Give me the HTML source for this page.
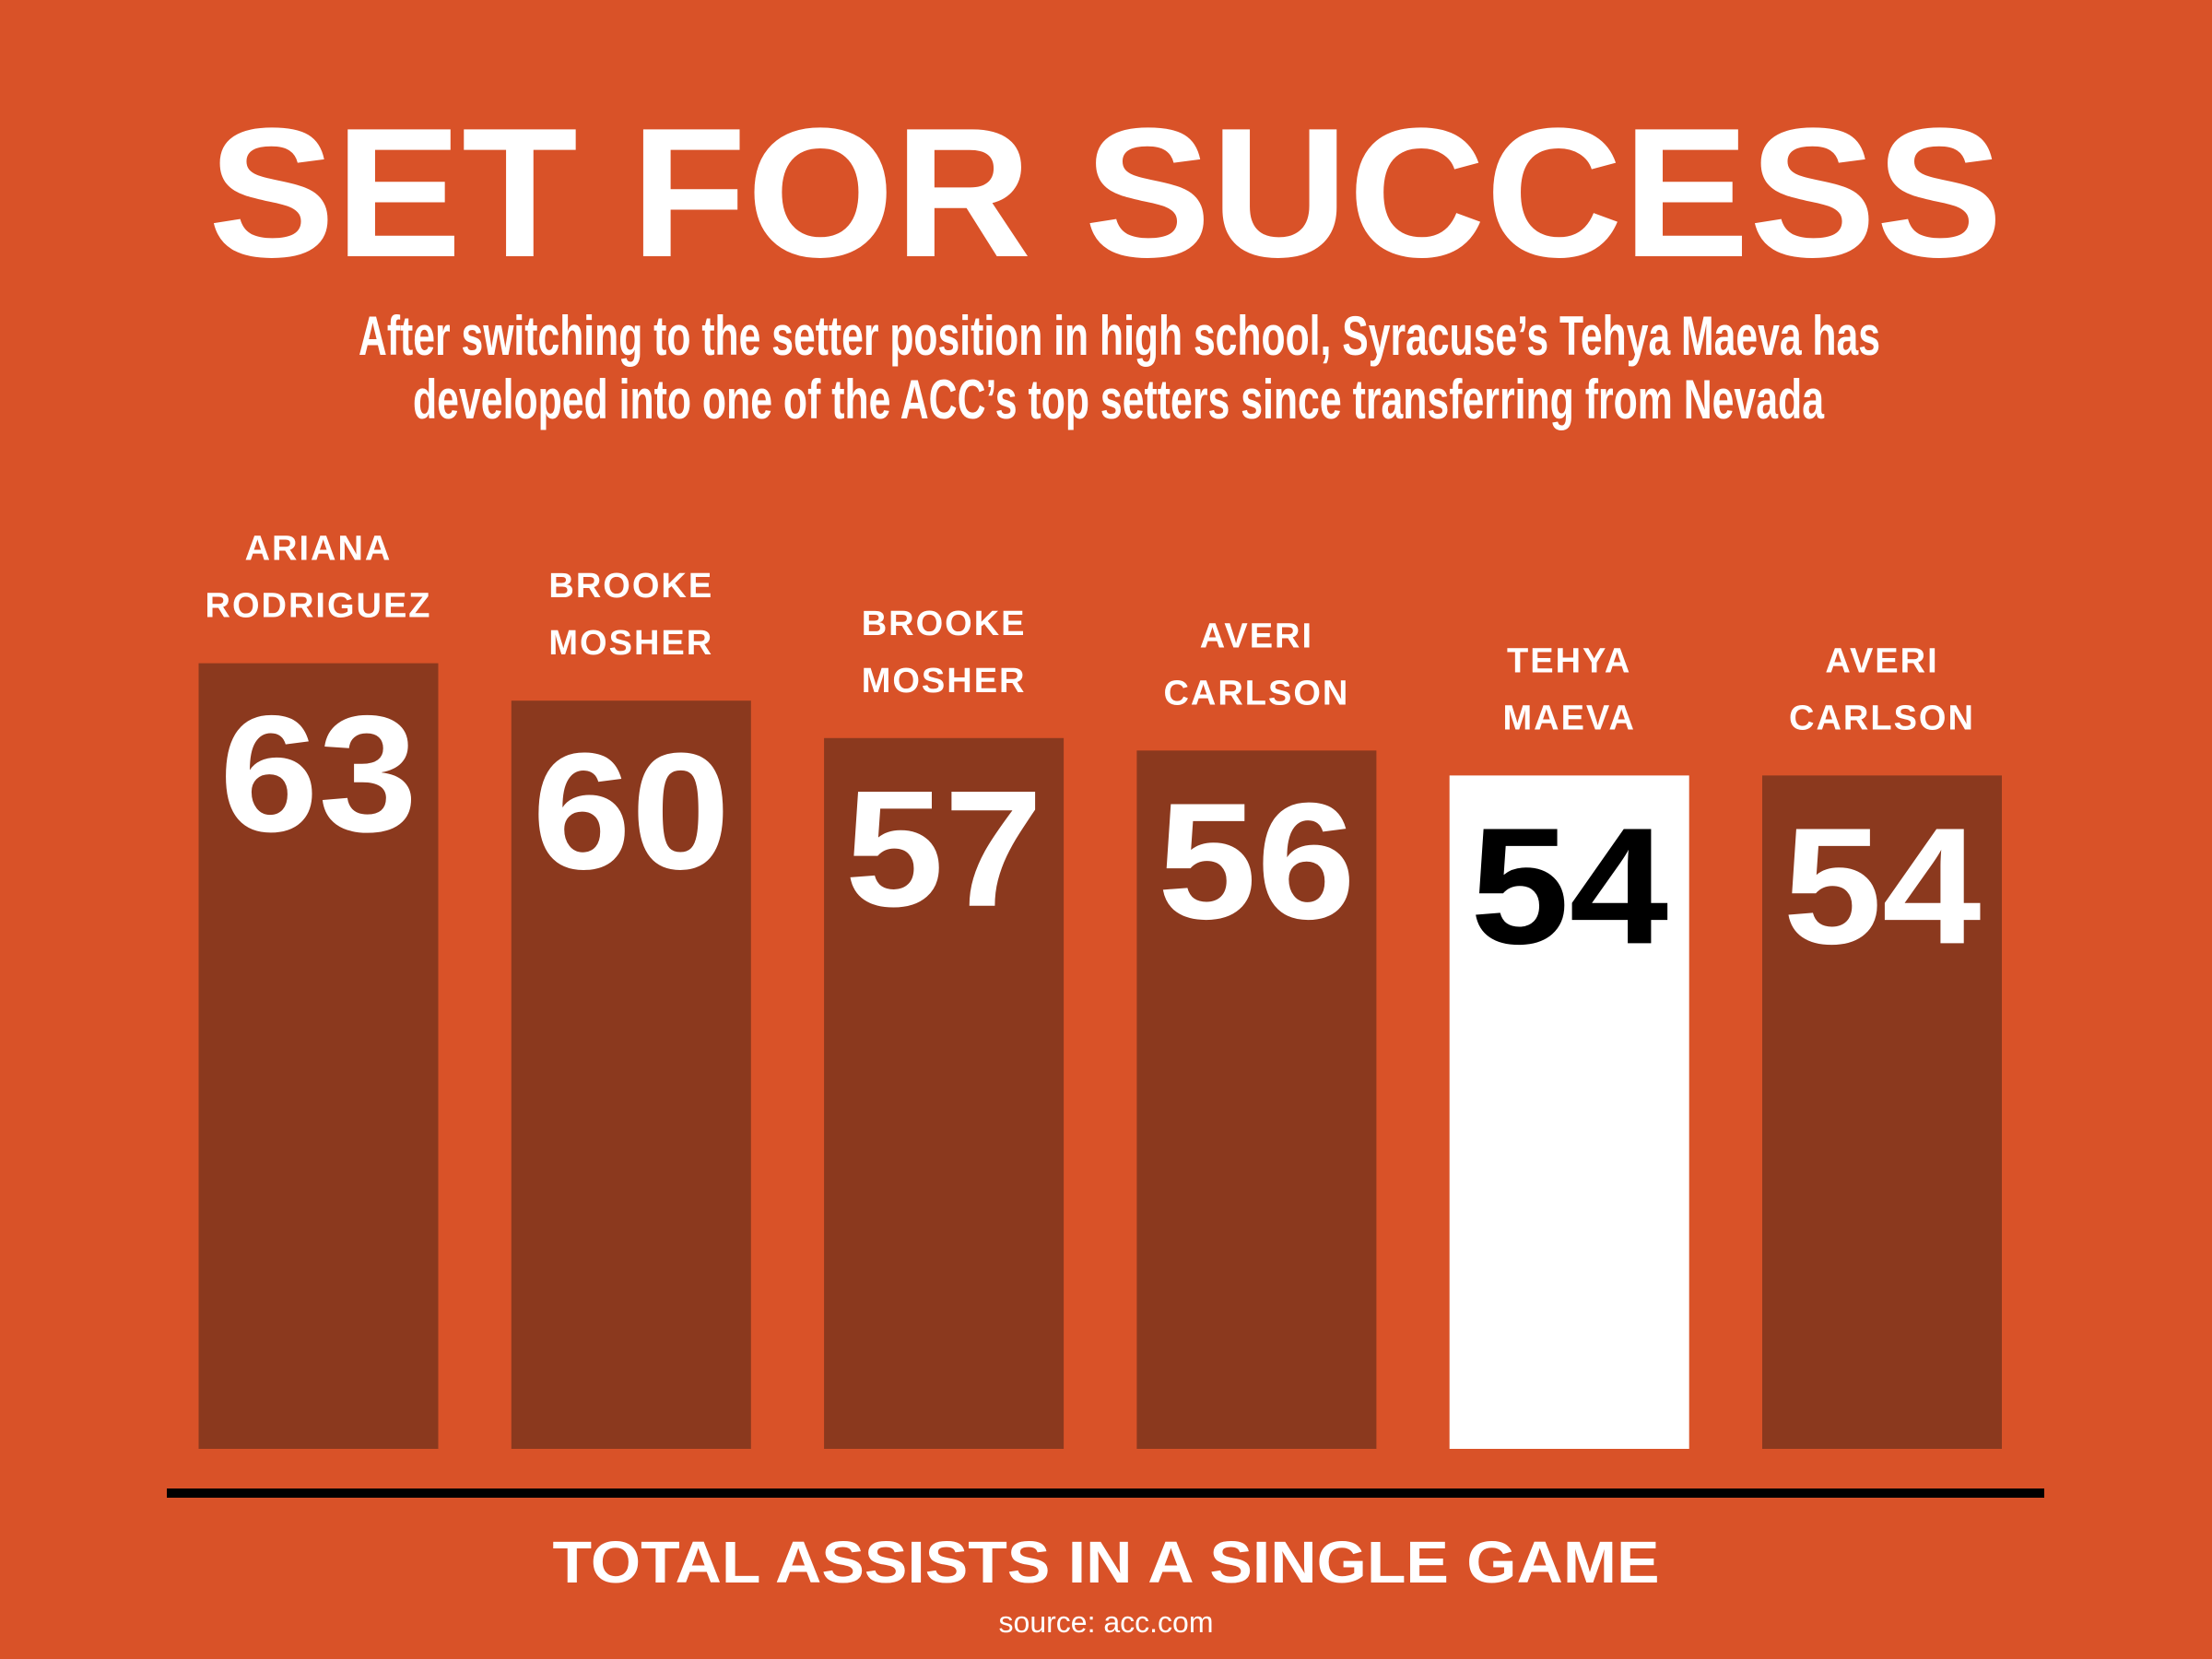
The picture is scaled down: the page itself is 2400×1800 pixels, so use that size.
<!DOCTYPE html>
<html><head><meta charset="utf-8">
<style>
html,body{margin:0;padding:0;background:#D95228;}
svg{display:block;}
</style></head>
<body>
<svg width="2400" height="1800" viewBox="0 0 2400 1800" xmlns="http://www.w3.org/2000/svg">
<rect x="0" y="0" width="2400" height="1800" fill="#D95228"/>
<text x="226" y="278" font-family="Liberation Sans, sans-serif" font-weight="bold" font-size="200" fill="#fff" textLength="1947" lengthAdjust="spacingAndGlyphs">SET FOR SUCCESS</text>
<text x="389" y="385" font-family="Liberation Sans Narrow, Liberation Sans, sans-serif" font-weight="bold" font-size="60" fill="#fff" textLength="1651" lengthAdjust="spacingAndGlyphs">After switching to the setter position in high school, Syracuse’s Tehya Maeva has</text>
<text x="448" y="454" font-family="Liberation Sans Narrow, Liberation Sans, sans-serif" font-weight="bold" font-size="60" fill="#fff" textLength="1531" lengthAdjust="spacingAndGlyphs">developed into one of the ACC’s top setters since transferring from Nevada</text>
<g id="bars"></g>
<rect x="181" y="1615" width="2037" height="10" fill="#000"/>
<text x="1200" y="1717" text-anchor="middle" font-family="Liberation Sans, sans-serif" font-weight="bold" font-size="64" fill="#fff" textLength="1201" lengthAdjust="spacingAndGlyphs">TOTAL ASSISTS IN A SINGLE GAME</text>
<text x="1200" y="1771" text-anchor="middle" font-family="Liberation Sans, sans-serif" font-size="32" fill="#fff">source: acc.com</text>
</svg>
<script>
const firstNames = ["ARIANA","BROOKE","BROOKE","AVERI","TEHYA","AVERI"];
const lastNames = ["RODRIGUEZ","MOSHER","MOSHER","CARLSON","MAEVA","CARLSON"];
const values = [63,60,57,56,54,54];
const highlight = [false,false,false,false,true,false];

const NS="http://www.w3.org/2000/svg";
const g=document.getElementById('bars');
const baseY=1572, pxPerUnit=13.53;
const x0=215.5, step=339.3, bw=260;
function yScale(v){return baseY - v*pxPerUnit;}
function xScale(i){return x0 + i*step;}
values.forEach((v,i)=>{
  const x=xScale(i), top=yScale(v);
  const r=document.createElementNS(NS,'rect');
  r.setAttribute('x',x);r.setAttribute('y',top);
  r.setAttribute('width',bw);r.setAttribute('height',baseY-top);
  r.setAttribute('fill',highlight[i]?'#ffffff':'#8B391E');
  
  
  g.appendChild(r);
  const t=document.createElementNS(NS,'text');
  t.setAttribute('x',x+bw/2);t.setAttribute('y',top+182);
  t.setAttribute('text-anchor','middle');
  t.setAttribute('font-family','Liberation Sans, sans-serif');
  t.setAttribute('font-weight','bold');
  t.setAttribute('font-size','180');
  t.setAttribute('textLength','215');
  t.setAttribute('lengthAdjust','spacingAndGlyphs');
  t.setAttribute('fill',highlight[i]?'#000':'#fff');
  t.textContent=v;
  
  
  g.appendChild(t);
  [[firstNames[i],-112],[lastNames[i],-50]].forEach(([s,dy])=>{
    const l=document.createElementNS(NS,'text');
    l.setAttribute('x',x+bw/2);l.setAttribute('y',top+dy);
    l.setAttribute('text-anchor','middle');
    l.setAttribute('font-family','Liberation Sans, sans-serif');
    l.setAttribute('font-weight','bold');
    l.setAttribute('font-size','38');
    l.setAttribute('letter-spacing','2');
    l.setAttribute('fill','#fff');
    l.textContent=s;
    
    
    g.appendChild(l);
  });
});
</script>
</body></html>
